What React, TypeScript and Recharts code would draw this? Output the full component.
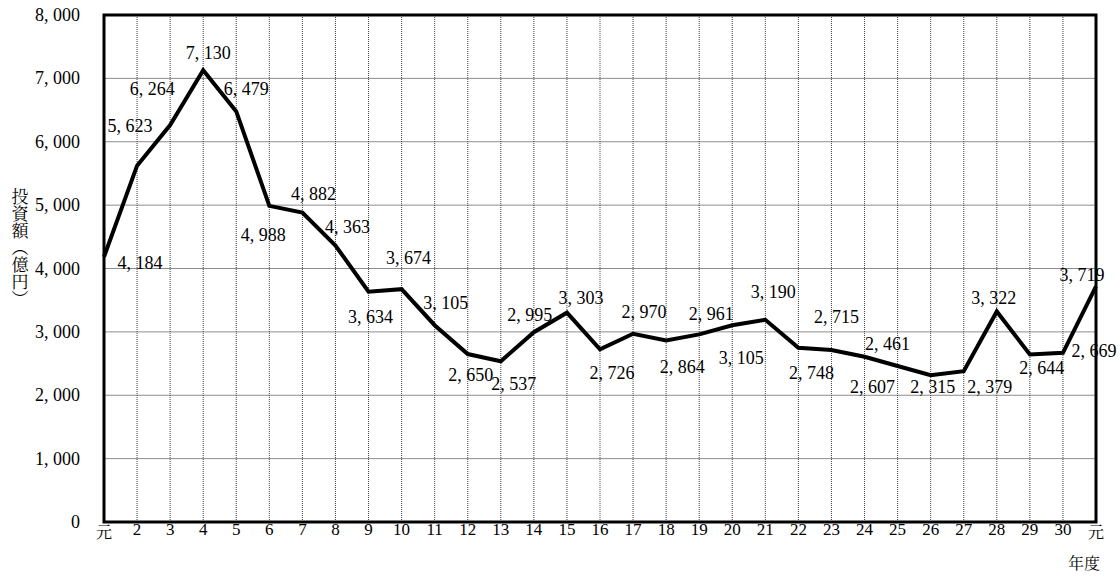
import { LineChart, Line, XAxis, YAxis, CartesianGrid, ReferenceArea, LabelList } from "recharts"

const years = ["元", "2", "3", "4", "5", "6", "7", "8", "9", "10", "11", "12", "13", "14", "15", "16", "17", "18", "19", "20", "21", "22", "23", "24", "25", "26", "27", "28", "29", "30", "元"]
const investment = [4184, 5623, 6264, 7130, 6479, 4988, 4882, 4363, 3634, 3674, 3105, 2650, 2537, 2995, 3303, 2726, 2970, 2864, 2961, 3105, 3190, 2748, 2715, 2607, 2461, 2315, 2379, 3322, 2644, 2669, 3719]
const yTicks = [0, 1000, 2000, 3000, 4000, 5000, 6000, 7000, 8000]

// where each value label sits relative to its point
const labelOffsets: [number, number][] = [
  [36, 6], [-7, -40], [-18, -36], [5, -17], [10, -22], [-6, 29], [11, -19], [12, -18],
  [2, 25], [7, -31], [11, -22], [3, 21], [13, 23], [-4, -17], [14, -15], [12, 24],
  [11, -22], [16, 27], [12, -20], [9, 33], [8, -28], [13, 25], [5, -33], [8, 30],
  [-10, -22], [2, 12], [26, 16], [-3, -13], [12, 14], [31, -2], [-14, -11],
]

const data = investment.map((v, i) => ({ idx: i, value: v }))

const SERIF = "Liberation Serif"
const CJK = "Noto Serif CJK JP"

const fmt = (n: number) => {
  const s = String(n)
  if (s.length <= 3) return s
  return s.slice(0, s.length - 3) + ", " + s.slice(s.length - 3)
}

const XTick = (props: any) => {
  const { x, y, payload } = props
  const label = years[payload.value]
  const isKanji = label === "元"
  return (
    <g>
      <text
        x={x}
        y={isKanji ? y + 16 : y + 13}
        textAnchor="middle"
        fontFamily={isKanji ? CJK : SERIF}
        fontSize={isKanji ? 16 : 17}
        fill="#000"
      >
        {label}
      </text>
      {payload.value === years.length - 1 && (
        <text x={x - 12} y={y + 47} textAnchor="middle" fontFamily={CJK} fontSize={16} fill="#000">
          年度
        </text>
      )}
    </g>
  )
}

const YTick = (props: any) => {
  const { x, y, payload } = props
  return (
    <text x={x} y={y} dy={6} textAnchor="end" fontFamily={SERIF} fontSize={18} fill="#000">
      {fmt(payload.value)}
    </text>
  )
}

const ValueLabel = (props: any) => {
  const { x, y, index, value } = props
  const [dx, dy] = labelOffsets[index] || [0, -15]
  return (
    <text
      x={x + dx}
      y={y + dy}
      textAnchor="middle"
      dominantBaseline="central"
      fontFamily={SERIF}
      fontSize={18}
      fill="#000"
    >
      {fmt(value)}
    </text>
  )
}

const YTitle = () => (
  <text
    x={20}
    y={188}
    fontFamily={CJK}
    fontSize={17}
    fill="#000"
    style={{ writingMode: "vertical-rl" as any }}
  >
    投資額（億円）
  </text>
)

export default function App() {
  return (
    <div style={{ position: "absolute", left: 0, top: 0, background: "#fff" }}>
      <LineChart width={1120} height={579} data={data} margin={{ top: 15, right: 24, left: 10, bottom: 27 }}>
        <CartesianGrid horizontal={true} vertical={false} stroke="#8c8c8c" strokeWidth={1} />
        <CartesianGrid horizontal={false} vertical={true} stroke="#444" strokeWidth={1} strokeDasharray="1 1" />
        <XAxis
          type="number"
          dataKey="idx"
          domain={[0, years.length - 1]}
          ticks={years.map((_, i) => i)}
          interval={0}
          tick={<XTick />}
          tickLine={false}
          tickSize={0}
          tickMargin={0}
          axisLine={false}
          height={30}
        />
        <YAxis
          domain={[0, 8000]}
          ticks={yTicks}
          tick={<YTick />}
          tickLine={false}
          tickSize={0}
          tickMargin={24}
          axisLine={false}
          width={94}
        />
        <ReferenceArea x1={0} x2={years.length - 1} y1={0} y2={8000} fill="none" stroke="#000" strokeWidth={3} ifOverflow="visible" />
        <Line
          type="linear"
          dataKey="value"
          stroke="#000"
          strokeWidth={4}
          dot={false}
          isAnimationActive={false}
        >
          <LabelList dataKey="value" content={<ValueLabel />} />
        </Line>
        <YTitle />
      </LineChart>
    </div>
  )
}
